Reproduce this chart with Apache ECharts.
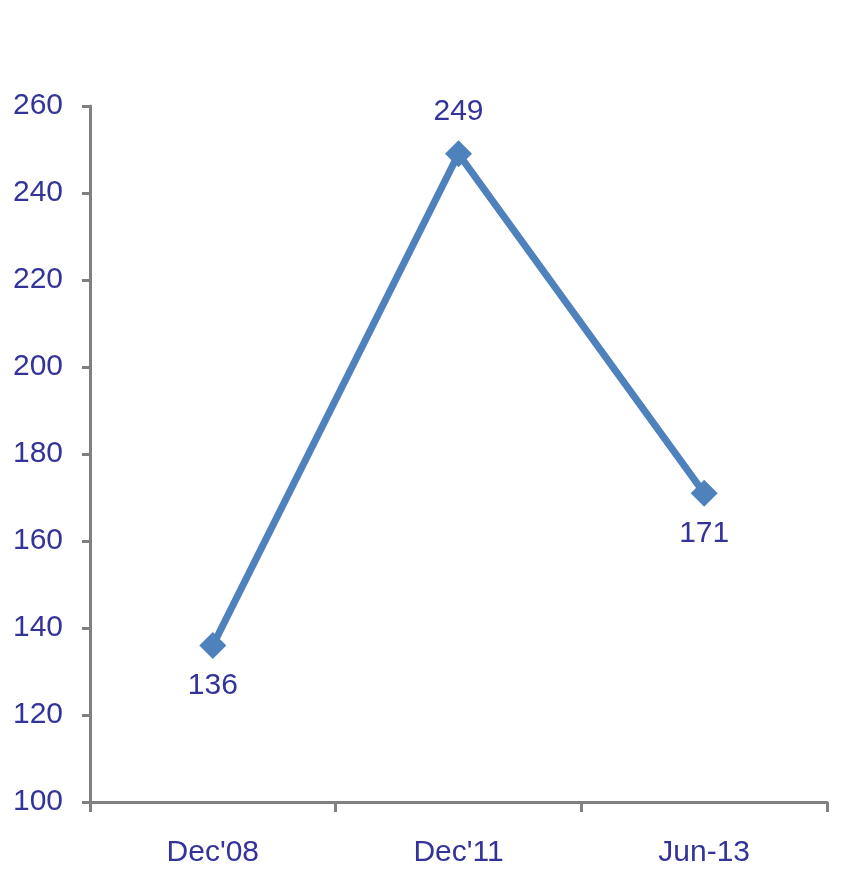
<!DOCTYPE html>
<html>
<head>
<meta charset="utf-8">
<script src="https://cdn.jsdelivr.net/npm/echarts@6/dist/echarts.min.js"></script>
<style>
  html, body { margin: 0; padding: 0; background: #ffffff; }
  #chart { width: 846px; height: 870px; }
</style>
</head>
<body>
<div id="chart"></div>
<script>
// Periods on the x axis and the value recorded for each
const periods = ["Dec'08", "Dec'11", "Jun-13"];
const values = [136, 249, 171];
// Where each value label sits relative to its point
const labelSides = ['bottom', 'top', 'bottom'];

const textColor = '#333399';
const axisColor = '#808080';
const lineColor = '#4F81BD';
const font = 'Arial, "Liberation Sans", sans-serif';

const chart = echarts.init(document.getElementById('chart'));
chart.setOption({
  backgroundColor: '#ffffff',
  animation: false,
  grid: { left: 90, right: 19, top: 106, bottom: 68 },
  xAxis: {
    type: 'category',
    data: periods,
    boundaryGap: true,
    axisLine: { lineStyle: { color: axisColor, width: 3 } },
    axisTick: { show: true, length: 10, alignWithLabel: false, lineStyle: { color: axisColor, width: 3 } },
    axisLabel: { color: textColor, fontSize: 30, fontFamily: font, margin: 36 },
    splitLine: { show: false }
  },
  yAxis: {
    type: 'value',
    min: 100,
    max: 260,
    interval: 20,
    axisLine: { show: true, lineStyle: { color: axisColor, width: 3 } },
    axisTick: { show: true, length: 8, lineStyle: { color: axisColor, width: 3 } },
    axisLabel: { color: textColor, fontSize: 30, fontFamily: font, margin: 27 },
    splitLine: { show: false }
  },
  series: [{
    type: 'line',
    data: values.map((v, i) => ({
      value: v,
      label: { show: true, position: labelSides[i], distance: labelSides[i] === 'top' ? 14 : 12 }
    })),
    symbol: 'diamond',
    symbolSize: 27,
    lineStyle: { color: lineColor, width: 7 },
    itemStyle: { color: lineColor },
    label: { color: textColor, fontSize: 30, fontFamily: font }
  }]
});
</script>
</body>
</html>
